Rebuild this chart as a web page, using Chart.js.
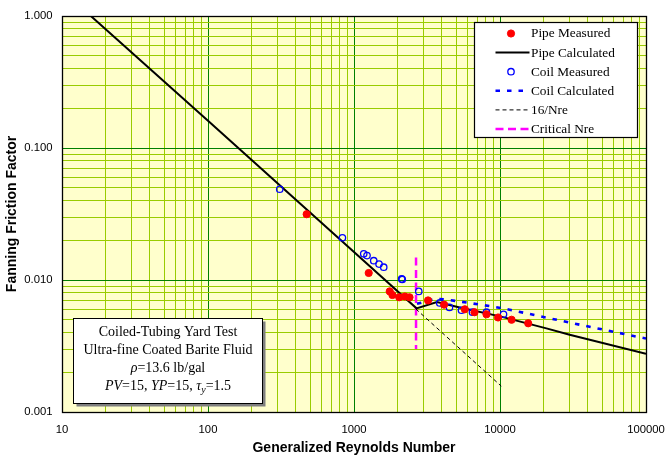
<!DOCTYPE html>
<html>
<head>
<meta charset="utf-8">
<script src="https://cdn.jsdelivr.net/npm/chart.js@4/dist/chart.umd.min.js"></script>
<style>
  html, body { margin: 0; padding: 0; background: #ffffff; }
  #wrap { width: 665px; height: 458px; position: relative; }
</style>
</head>
<body>
<div id="wrap"><canvas id="chart"></canvas></div>
<script>
// Friction factor vs generalized Reynolds number, pipe and coiled tubing
const pipeMeasured = [
  [474, 0.0315], [1261, 0.0113], [1757, 0.0082], [1833, 0.0077], [2040, 0.0074],
  [2230, 0.0075], [2400, 0.0074], [3215, 0.0070], [4140, 0.0065], [5740, 0.0060],
  [6690, 0.0057], [8080, 0.0055], [9700, 0.0052], [12000, 0.0050], [15600, 0.0047]
];
const pipeCalculated = [
  [15, 1.05], [100, 0.161], [1000, 0.0163], [2680, 0.0061], [3700, 0.0068],
  [5300, 0.0062], [10000, 0.0053], [20800, 0.0043], [30000, 0.00385], [100000, 0.00276]
];
const coilMeasured = [
  [310, 0.0487], [833, 0.0209], [1166, 0.0158], [1228, 0.0153], [1365, 0.0140],
  [1484, 0.0132], [1598, 0.0125], [2120, 0.0102], [2140, 0.0101], [2777, 0.0082],
  [3866, 0.0067], [4508, 0.0062], [5447, 0.0059], [6478, 0.0057], [8080, 0.0057],
  [10570, 0.0055]
];
const coilCalculated = [
  [2700, 0.0066], [3600, 0.0072], [4340, 0.0071], [5150, 0.0069], [7400, 0.0065],
  [10500, 0.0061], [30500, 0.00474], [100000, 0.0036]
];
const laminar16 = [[2650, 0.00604], [10200, 0.00157]];
const criticalNre = [[2660, 0.0148], [2660, 0.0030]];

const seriesNames = ['Pipe Measured', 'Pipe Calculated', 'Coil Measured',
                     'Coil Calculated', '16/Nre', 'Critical Nre'];

const xDecades = [10, 100, 1000, 10000, 100000];
const xTickLabels = ['10', '100', '1000', '10000', '100000'];
const yDecades = [0.001, 0.01, 0.1, 1];
const yTickLabels = ['0.001', '0.010', '0.100', '1.000'];

const noteLines = [
  [{ t: 'Coiled-Tubing Yard Test' }],
  [{ t: 'Ultra-fine Coated Barite Fluid' }],
  [{ t: '\u03C1', i: true }, { t: '=13.6 lb/gal' }],
  [{ t: 'PV', i: true }, { t: '=15, ' }, { t: 'YP', i: true }, { t: '=15, ' },
   { t: '\u03C4', i: true }, { t: 'y', i: true, sub: true }, { t: '=1.5' }]
];

const toXY = arr => arr.map(([x, y]) => ({ x, y }));

const SANS = '"Liberation Sans", Arial, sans-serif';
const SERIF = '"Liberation Serif", "Times New Roman", serif';
const MAJOR_GRID = '#008000';
const MINOR_GRID = '#99cc00';

function isDecade(v, decades) {
  return decades.some(d => Math.abs(Math.log10(v) - Math.log10(d)) < 1e-6);
}
function decadeLabel(v, decades, labels) {
  for (let i = 0; i < decades.length; i++) {
    if (Math.abs(Math.log10(v) - Math.log10(decades[i])) < 1e-6) return labels[i];
  }
  return '';
}
// 1..9 x each decade, for the log grid
function logGridTicks(decades) {
  const out = [];
  for (let i = 0; i < decades.length - 1; i++) {
    for (let m = 1; m <= 9; m++) out.push({ value: +(m * decades[i]).toPrecision(6) });
  }
  out.push({ value: decades[decades.length - 1] });
  return out;
}

const plotBackground = {
  id: 'plotBackground',
  beforeDraw(chart) {
    const { ctx, chartArea: a } = chart;
    ctx.save();
    ctx.fillStyle = '#ffffcc';
    ctx.fillRect(a.left, a.top, a.right - a.left, a.bottom - a.top);
    ctx.restore();
  }
};

const plotFrame = {
  id: 'plotFrame',
  afterDatasetsDraw(chart) {
    const { ctx, chartArea: a } = chart;
    ctx.save();
    ctx.strokeStyle = '#000';
    ctx.lineWidth = 1.3;
    ctx.strokeRect(a.left + 0.5, a.top + 0.5, a.right - a.left, a.bottom - a.top);
    ctx.restore();
  }
};

function drawMarker(ctx, ds, x, y) {
  ctx.beginPath();
  ctx.arc(x, y, ds.pointRadius, 0, Math.PI * 2);
  if (ds.backgroundColor && ds.backgroundColor !== 'transparent') {
    ctx.fillStyle = ds.backgroundColor;
    ctx.fill();
  }
  ctx.lineWidth = ds.pointBorderWidth;
  ctx.strokeStyle = ds.borderColor;
  ctx.stroke();
}

const boxLegend = {
  id: 'boxLegend',
  afterDraw(chart) {
    const { ctx, chartArea: a } = chart;
    const w = 163, h = 115;
    const x0 = Math.round(a.right - 9 - w) + 0.5;
    const y0 = Math.round(a.top + 6) + 0.5;
    ctx.save();
    ctx.fillStyle = '#ffffff';
    ctx.fillRect(x0, y0, w, h);
    ctx.strokeStyle = '#000';
    ctx.lineWidth = 1.2;
    ctx.strokeRect(x0, y0, w, h);
    ctx.font = '13.3px ' + SERIF;
    ctx.textBaseline = 'middle';
    ctx.textAlign = 'left';
    chart.data.datasets.forEach((ds, i) => {
      const y = y0 + 11 + i * 19.1;
      if (ds.showLine === false) {
        drawMarker(ctx, ds, x0 + 36.5, y);
      } else {
        ctx.beginPath();
        ctx.setLineDash(ds.borderDash || []);
        ctx.lineWidth = ds.borderWidth;
        ctx.strokeStyle = ds.borderColor;
        ctx.moveTo(x0 + 21, y);
        ctx.lineTo(x0 + 55, y);
        ctx.stroke();
        ctx.setLineDash([]);
      }
      ctx.fillStyle = '#000';
      ctx.fillText(ds.label, x0 + 56.5, y + 0.5);
    });
    ctx.restore();
  }
};

const noteBox = {
  id: 'noteBox',
  afterDraw(chart) {
    const { ctx, chartArea: a } = chart;
    const x0 = a.left + 11.5, y0 = a.top + 302.5, w = 189, h = 85;
    ctx.save();
    ctx.fillStyle = '#7f7f7f';
    ctx.fillRect(x0 + 3, y0 + 3, w, h);
    ctx.fillStyle = '#ffffff';
    ctx.fillRect(x0, y0, w, h);
    ctx.strokeStyle = '#000';
    ctx.lineWidth = 1;
    ctx.strokeRect(x0, y0, w, h);
    ctx.fillStyle = '#000';
    ctx.textBaseline = 'middle';
    ctx.textAlign = 'left';
    const cx = x0 + w / 2;
    const fontOf = s => (s.i ? 'italic ' : '') + (s.sub ? '10px ' : '14px ') + SERIF;
    noteLines.forEach((segs, li) => {
      const y = y0 + 14 + li * 18;
      let total = 0;
      segs.forEach(s => { ctx.font = fontOf(s); total += ctx.measureText(s.t).width; });
      let x = cx - total / 2;
      segs.forEach(s => {
        ctx.font = fontOf(s);
        ctx.fillText(s.t, x, s.sub ? y + 4 : y);
        x += ctx.measureText(s.t).width;
      });
    });
    ctx.restore();
  }
};

const datasets = [
  {
    label: seriesNames[0], data: toXY(pipeMeasured), showLine: false, order: 0,
    pointRadius: 3.6, pointBorderWidth: 1, borderColor: '#ff0000', backgroundColor: '#ff0000'
  },
  {
    label: seriesNames[1], data: toXY(pipeCalculated), order: 2,
    borderColor: '#000000', borderWidth: 2, pointRadius: 0, backgroundColor: '#000000'
  },
  {
    label: seriesNames[2], data: toXY(coilMeasured), showLine: false, order: 1,
    pointRadius: 3.2, pointBorderWidth: 1.3, borderColor: '#0000ff', backgroundColor: 'transparent'
  },
  {
    label: seriesNames[3], data: toXY(coilCalculated), order: 3,
    borderColor: '#0000ff', borderWidth: 2.6, borderDash: [4.5, 7], pointRadius: 0,
    backgroundColor: '#0000ff'
  },
  {
    label: seriesNames[4], data: toXY(laminar16), order: 4,
    borderColor: '#000000', borderWidth: 1, borderDash: [4, 3], pointRadius: 0,
    backgroundColor: '#000000'
  },
  {
    label: seriesNames[5], data: toXY(criticalNre), order: 5,
    borderColor: '#ff00ff', borderWidth: 2.5, borderDash: [8, 4.5], pointRadius: 0,
    backgroundColor: '#ff00ff'
  }
];

new Chart(document.getElementById('chart'), {
  type: 'line',
  data: { datasets },
  options: {
    responsive: true,
    maintainAspectRatio: false,
    animation: false,
    events: [],
    layout: { padding: { top: 16, right: 19, left: 0, bottom: 0 } },
    elements: { line: { tension: 0, fill: false } },
    plugins: { legend: { display: false }, tooltip: { enabled: false } },
    scales: {
      x: {
        type: 'logarithmic', min: 10, max: 100000,
        afterBuildTicks: s => { s.ticks = logGridTicks(xDecades); },
        afterFit: s => { s.height = 46; s.paddingLeft = 0; s.paddingRight = 0; },
        grid: {
          drawTicks: false,
          lineWidth: 1,
          color: c => (c.tick && isDecade(c.tick.value, xDecades)) ? MAJOR_GRID : MINOR_GRID
        },
        border: { display: false },
        ticks: {
          autoSkip: false, maxRotation: 0, padding: 11, color: '#000',
          font: { family: SANS, size: 11.3 },
          callback: v => decadeLabel(v, xDecades, xTickLabels)
        },
        title: {
          display: true, text: 'Generalized Reynolds Number', color: '#000',
          font: { family: SANS, size: 14, weight: 'bold' },
          padding: { top: 0, bottom: 1.5 }
        }
      },
      y: {
        type: 'logarithmic', min: 0.001, max: 1,
        afterBuildTicks: s => { s.ticks = logGridTicks(yDecades); },
        afterFit: s => { s.width = 62; s.paddingTop = 0; s.paddingBottom = 0; },
        grid: {
          drawTicks: false,
          lineWidth: 1,
          color: c => (c.tick && isDecade(c.tick.value, yDecades)) ? MAJOR_GRID : MINOR_GRID
        },
        border: { display: false },
        ticks: {
          autoSkip: false, padding: 9.5, color: '#000',
          font: { family: SANS, size: 11.3 },
          callback: v => decadeLabel(v, yDecades, yTickLabels)
        },
        title: {
          display: true, text: 'Fanning Friction Factor', color: '#000',
          font: { family: SANS, size: 14, weight: 'bold' },
          padding: { top: 4.2, bottom: 0 }
        }
      }
    }
  },
  plugins: [plotBackground, plotFrame, boxLegend, noteBox]
});
</script>
</body>
</html>
